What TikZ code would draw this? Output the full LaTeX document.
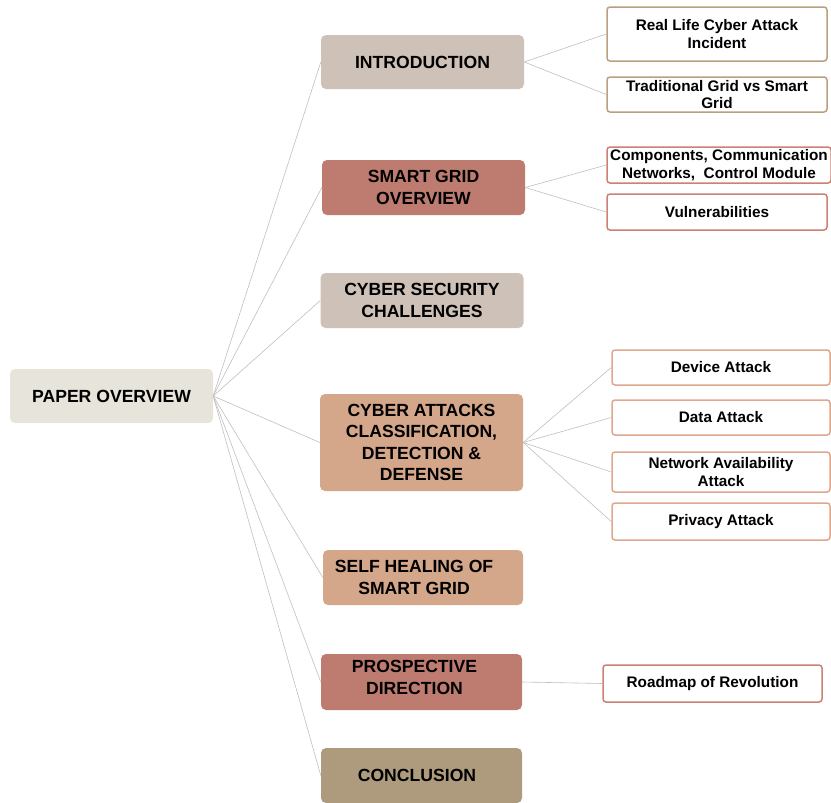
\documentclass[tikz,border=0pt]{standalone}
\usepackage{fontspec}
\setmainfont{Liberation Sans}
\definecolor{paperfill}{HTML}{E7E4DC}
\definecolor{sandfill}{HTML}{CEC1B7}
\definecolor{rosefill}{HTML}{BE7C70}
\definecolor{peachfill}{HTML}{D4A68A}
\definecolor{khakifill}{HTML}{AE9B7D}
\definecolor{tanline}{HTML}{B9A07E}
\definecolor{roseline}{HTML}{CB8174}
\definecolor{peachline}{HTML}{DDA88E}
\tikzset{
  topic/.style={rounded corners=5pt, minimum width=203pt, minimum height=55pt,
    align=center, inner sep=2pt, text=black,
    font=\fontsize{17.6}{21.5}\selectfont\bfseries},
  subtopic/.style={draw, line width=1.5pt, rounded corners=3pt, fill=white,
    minimum width=220pt, minimum height=35pt, align=center, inner sep=1pt,
    text=black, font=\fontsize{15.3}{17.5}\selectfont\bfseries},
  link/.style={draw=gray!50, line width=0.6pt}
}
\begin{document}
\begin{tikzpicture}[x=1pt,y=-1pt]
\useasboundingbox (0,0) rectangle (831,803);

% root
\node[topic, fill=paperfill, minimum height=54pt] (root) at (111.5,396) {PAPER OVERVIEW};

% chapters
\node[topic, fill=sandfill, minimum height=54pt] (intro) at (422.5,62) {INTRODUCTION};
\node[topic, fill=rosefill] (sgo) at (423.5,187.5) {SMART GRID\\OVERVIEW};
\node[topic, fill=sandfill] (csc) at (422,300.5) {CYBER SECURITY\\CHALLENGES};
\node[topic, fill=peachfill, minimum height=97pt] (cad) at (421.5,442.5)
  {CYBER ATTACKS\\CLASSIFICATION,\\DETECTION \&\\DEFENSE};
\node[topic, fill=peachfill, minimum width=200pt] (shg) at (423,577.5)
  {\hspace*{-18pt}SELF HEALING OF\\\hspace*{-18pt}SMART GRID};
\node[topic, fill=rosefill, minimum width=201pt, minimum height=56pt] (pdir) at (421.5,682)
  {\hspace*{-14pt}PROSPECTIVE\\\hspace*{-14pt}DIRECTION\\[-12.5pt]\mbox{}};
\node[topic, fill=khakifill, minimum width=201pt] (conc) at (421.5,775.5)
  {\hspace*{-9pt}CONCLUSION};

% sections of each chapter
\node[subtopic, draw=tanline, minimum height=54pt] (rlc) at (717,34)
  {Real Life Cyber Attack\\Incident};
\node[subtopic, draw=tanline, inner ysep=0pt] (tvs) at (717,94.5)
  {Traditional Grid vs Smart\\Grid};
\node[subtopic, draw=roseline, minimum width=224pt, minimum height=36pt, inner ysep=0pt] (ccm) at (719,165)
  {Components, Communication\\Networks,\ \ Control Module};
\node[subtopic, draw=roseline, minimum height=36pt] (vul) at (717,212) {Vulnerabilities};
\node[subtopic, draw=peachline, minimum width=218pt] (dev) at (721,367.5) {Device Attack};
\node[subtopic, draw=peachline, minimum width=218pt] (dat) at (721,417.5) {Data Attack};
\node[subtopic, draw=peachline, minimum width=218pt, minimum height=40pt, inner ysep=0pt] (net) at (721,472)
  {Network Availability\\Attack};
\node[subtopic, draw=peachline, minimum width=218pt, minimum height=37pt] (prv) at (721,521.5) {Privacy Attack};
\node[subtopic, draw=roseline, minimum width=219pt, minimum height=37pt] (rmp) at (712.5,683.5) {Roadmap of Revolution};

% connectors
\foreach \t in {intro,sgo,csc,cad,shg,pdir,conc}
  \draw[link] (root.east) -- (\t.west);
\foreach \t in {rlc,tvs}
  \draw[link] (intro.east) -- (\t.west);
\foreach \t in {ccm,vul}
  \draw[link] (sgo.east) -- (\t.west);
\foreach \t in {dev,dat,net,prv}
  \draw[link] (cad.east) -- (\t.west);
\draw[link] (pdir.east) -- (rmp.west);
\end{tikzpicture}
\end{document}
